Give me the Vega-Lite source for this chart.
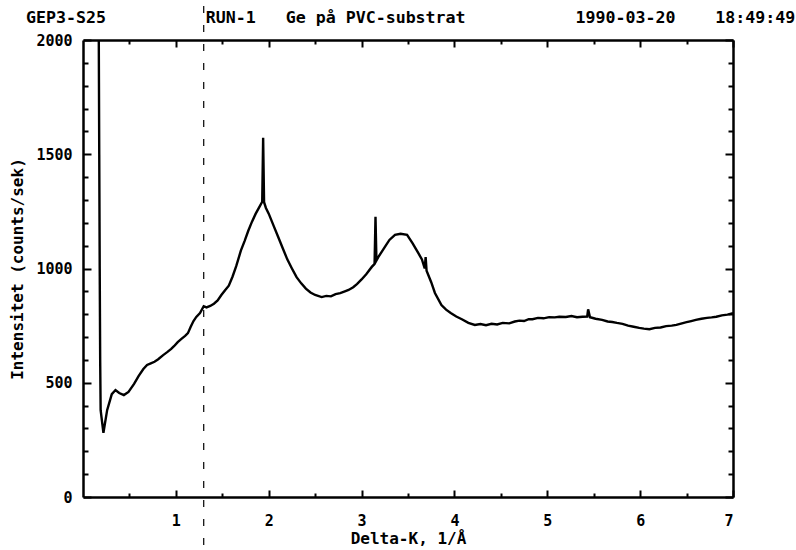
{
  "$schema": "https://vega.github.io/schema/vega-lite/v6.json",
  "width": 650,
  "height": 457,
  "autosize": "none",
  "padding": {"left": 83, "top": 40, "right": 63, "bottom": 53},
  "background": "white",
  "config": {
    "view": {"stroke": null},
    "font": "DejaVu Sans Mono",
    "axis": {"labelFont": "DejaVu Sans Mono", "labelFontWeight": "bold", "labelFontSize": 15, "labelColor": "black", "titleFont": "DejaVu Sans Mono", "titleFontWeight": "bold", "titleFontSize": 16, "titleColor": "black", "domainColor": "black", "domainWidth": 2.5, "tickColor": "black", "tickWidth": 2, "grid": false}
  },
  "title": {
    "text": "GEP3-S25\u00a0\u00a0\u00a0\u00a0\u00a0\u00a0\u00a0\u00a0\u00a0\u00a0RUN-1\u00a0\u00a0\u00a0Ge på PVC-substrat\u00a0\u00a0\u00a0\u00a0\u00a0\u00a0\u00a0\u00a0\u00a0\u00a0\u00a01990-03-20\u00a0\u00a0\u00a0\u00a018:49:49",
    "anchor": "start",
    "frame": "group",
    "orient": "top",
    "dx": -57,
    "offset": -34,
    "font": "DejaVu Sans Mono",
    "fontSize": 16.6,
    "fontWeight": "bold",
    "color": "black",
    "baseline": "alphabetic"
  },
  "resolve": {"axis": {"x": "independent", "y": "independent"}},
  "layer": [
    {
      "data": {"values": [
        {"k": 0.17, "i": 2000}, {"k": 0.175, "i": 1500}, {"k": 0.18, "i": 1000}, {"k": 0.185, "i": 600},
        {"k": 0.19, "i": 380}, {"k": 0.22, "i": 281}, {"k": 0.26, "i": 380}, {"k": 0.31, "i": 450},
        {"k": 0.35, "i": 468}, {"k": 0.39, "i": 455}, {"k": 0.44, "i": 446}, {"k": 0.49, "i": 460},
        {"k": 0.55, "i": 495}, {"k": 0.6, "i": 530}, {"k": 0.65, "i": 560}, {"k": 0.69, "i": 578},
        {"k": 0.73, "i": 585}, {"k": 0.77, "i": 592}, {"k": 0.81, "i": 603}, {"k": 0.86, "i": 620},
        {"k": 0.91, "i": 635}, {"k": 0.95, "i": 648}, {"k": 0.98, "i": 660}, {"k": 1.02, "i": 678},
        {"k": 1.06, "i": 692}, {"k": 1.1, "i": 705}, {"k": 1.13, "i": 717}, {"k": 1.16, "i": 745},
        {"k": 1.19, "i": 770}, {"k": 1.22, "i": 788}, {"k": 1.26, "i": 805}, {"k": 1.3, "i": 835},
        {"k": 1.33, "i": 830}, {"k": 1.37, "i": 836}, {"k": 1.41, "i": 846}, {"k": 1.45, "i": 860},
        {"k": 1.49, "i": 884}, {"k": 1.53, "i": 905}, {"k": 1.57, "i": 925}, {"k": 1.61, "i": 964},
        {"k": 1.65, "i": 1010}, {"k": 1.7, "i": 1078}, {"k": 1.74, "i": 1120}, {"k": 1.78, "i": 1165},
        {"k": 1.82, "i": 1205}, {"k": 1.86, "i": 1240}, {"k": 1.9, "i": 1270}, {"k": 1.93, "i": 1292},
        {"k": 1.94, "i": 1572}, {"k": 1.95, "i": 1290}, {"k": 1.97, "i": 1265}, {"k": 2.0, "i": 1240},
        {"k": 2.05, "i": 1190}, {"k": 2.1, "i": 1140}, {"k": 2.15, "i": 1090}, {"k": 2.2, "i": 1040},
        {"k": 2.25, "i": 1000}, {"k": 2.3, "i": 962}, {"k": 2.35, "i": 935}, {"k": 2.4, "i": 912},
        {"k": 2.45, "i": 895}, {"k": 2.5, "i": 884}, {"k": 2.57, "i": 875}, {"k": 2.62, "i": 880},
        {"k": 2.67, "i": 878}, {"k": 2.72, "i": 888}, {"k": 2.77, "i": 892}, {"k": 2.82, "i": 900},
        {"k": 2.86, "i": 906}, {"k": 2.91, "i": 918}, {"k": 2.95, "i": 932}, {"k": 3.0, "i": 952},
        {"k": 3.05, "i": 975}, {"k": 3.11, "i": 1007}, {"k": 3.14, "i": 1020}, {"k": 3.15, "i": 1226},
        {"k": 3.16, "i": 1035}, {"k": 3.18, "i": 1050}, {"k": 3.22, "i": 1075}, {"k": 3.26, "i": 1100},
        {"k": 3.3, "i": 1125}, {"k": 3.36, "i": 1147}, {"k": 3.42, "i": 1152}, {"k": 3.49, "i": 1147},
        {"k": 3.55, "i": 1110}, {"k": 3.61, "i": 1068}, {"k": 3.65, "i": 1040}, {"k": 3.68, "i": 1000},
        {"k": 3.69, "i": 1050}, {"k": 3.7, "i": 990}, {"k": 3.75, "i": 940}, {"k": 3.79, "i": 893},
        {"k": 3.86, "i": 840}, {"k": 3.91, "i": 820}, {"k": 3.96, "i": 805}, {"k": 4.02, "i": 790},
        {"k": 4.08, "i": 778}, {"k": 4.15, "i": 762}, {"k": 4.22, "i": 753}, {"k": 4.28, "i": 757},
        {"k": 4.34, "i": 752}, {"k": 4.4, "i": 758}, {"k": 4.46, "i": 755}, {"k": 4.52, "i": 762},
        {"k": 4.59, "i": 760}, {"k": 4.65, "i": 768}, {"k": 4.7, "i": 772}, {"k": 4.75, "i": 770},
        {"k": 4.8, "i": 778}, {"k": 4.84, "i": 778}, {"k": 4.9, "i": 784}, {"k": 4.96, "i": 782},
        {"k": 5.02, "i": 787}, {"k": 5.08, "i": 786}, {"k": 5.13, "i": 789}, {"k": 5.2, "i": 788},
        {"k": 5.26, "i": 792}, {"k": 5.32, "i": 787}, {"k": 5.38, "i": 789}, {"k": 5.43, "i": 790},
        {"k": 5.44, "i": 821}, {"k": 5.46, "i": 787}, {"k": 5.52, "i": 780}, {"k": 5.59, "i": 775},
        {"k": 5.65, "i": 768}, {"k": 5.7, "i": 766}, {"k": 5.75, "i": 762}, {"k": 5.81, "i": 758},
        {"k": 5.87, "i": 750}, {"k": 5.93, "i": 745}, {"k": 5.99, "i": 740}, {"k": 6.04, "i": 737},
        {"k": 6.1, "i": 734}, {"k": 6.16, "i": 740}, {"k": 6.22, "i": 742}, {"k": 6.28, "i": 748},
        {"k": 6.34, "i": 750}, {"k": 6.39, "i": 753}, {"k": 6.45, "i": 760}, {"k": 6.5, "i": 765},
        {"k": 6.55, "i": 770}, {"k": 6.6, "i": 775}, {"k": 6.66, "i": 780}, {"k": 6.72, "i": 784},
        {"k": 6.77, "i": 786}, {"k": 6.82, "i": 789}, {"k": 6.88, "i": 795}, {"k": 6.94, "i": 798},
        {"k": 7.0, "i": 804}
      ]},
      "mark": {"type": "line", "color": "black", "strokeWidth": 2.4, "clip": true},
      "encoding": {
        "x": {"field": "k", "type": "quantitative", "scale": {"domain": [0, 7], "nice": false, "zero": false},
          "axis": {"orient": "bottom", "values": [1, 2, 3, 4, 5, 6, 7], "format": "d", "tickSize": -7, "labelPadding": 23, "title": "Delta-K, 1/Å", "titlePadding": 2}},
        "y": {"field": "i", "type": "quantitative", "scale": {"domain": [0, 2000], "nice": false},
          "axis": {"orient": "left", "values": [0, 500, 1000, 1500, 2000], "format": "d", "tickSize": -8, "labelPadding": 19, "title": "Intensitet (counts/sek)", "titlePadding": 10}}
      }
    },
    {
      "data": {"values": [{"k": 1.3, "lo": -210, "hi": 2150}]},
      "mark": {"type": "rule", "color": "black", "strokeWidth": 1.2, "strokeDash": [7, 12], "clip": false},
      "encoding": {
        "x": {"field": "k", "type": "quantitative", "scale": {"domain": [0, 7], "nice": false, "zero": false},
          "axis": {"orient": "bottom", "values": [0.5, 1.5, 2.5, 3.5, 4.5, 5.5, 6.5], "tickSize": -4, "labels": false, "domain": false, "title": null}},
        "y": {"field": "lo", "type": "quantitative", "scale": {"domain": [0, 2000], "nice": false},
          "axis": {"orient": "left", "values": [100, 200, 300, 400, 600, 700, 800, 900, 1100, 1200, 1300, 1400, 1600, 1700, 1800, 1900], "tickSize": -5, "labels": false, "domain": false, "title": null}},
        "y2": {"field": "hi"}
      }
    },
    {
      "data": {"values": [{"k": 1.3, "lo": 0, "hi": 0}]},
      "mark": {"type": "rule", "strokeOpacity": 0},
      "encoding": {
        "x": {"field": "k", "type": "quantitative", "scale": {"domain": [0, 7], "nice": false, "zero": false},
          "axis": {"orient": "top", "values": [1, 2, 3, 4, 5, 6, 7], "tickSize": -7, "labels": false, "title": null}},
        "y": {"field": "lo", "type": "quantitative", "scale": {"domain": [0, 2000], "nice": false},
          "axis": {"orient": "right", "values": [0, 500, 1000, 1500, 2000], "tickSize": -8, "labels": false, "title": null}}
      }
    },
    {
      "data": {"values": [{"k": 1.3, "lo": 0, "hi": 0}]},
      "mark": {"type": "rule", "strokeOpacity": 0},
      "encoding": {
        "x": {"field": "k", "type": "quantitative", "scale": {"domain": [0, 7], "nice": false, "zero": false},
          "axis": {"orient": "top", "values": [0.5, 1.5, 2.5, 3.5, 4.5, 5.5, 6.5], "tickSize": -4, "labels": false, "domain": false, "title": null}},
        "y": {"field": "lo", "type": "quantitative", "scale": {"domain": [0, 2000], "nice": false},
          "axis": {"orient": "right", "values": [100, 200, 300, 400, 600, 700, 800, 900, 1100, 1200, 1300, 1400, 1600, 1700, 1800, 1900], "tickSize": -5, "labels": false, "domain": false, "title": null}}
      }
    }
  ]
}
